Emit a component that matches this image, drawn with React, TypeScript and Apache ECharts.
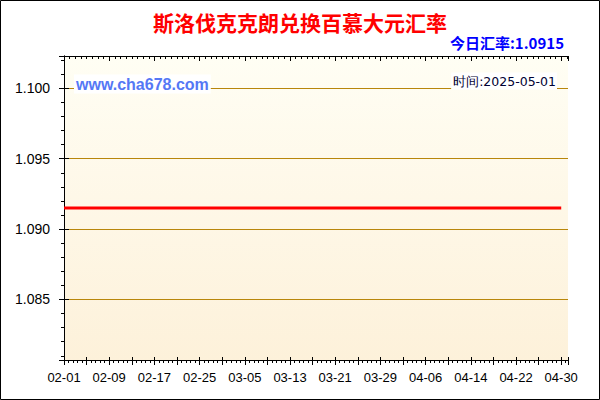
import { useEffect, useRef } from 'react';
import * as echarts from 'echarts';

const title = '斯洛伐克克朗兑换百慕大元汇率';
const todayRate = '今日汇率:1.0915';
const siteText = 'www.cha678.com';
const timeText = '时间:2025-05-01';

// one point per day, 02-01 .. 04-30
const dates = [
    '02-01', '02-02', '02-03', '02-04', '02-05', '02-06', '02-07', '02-08', '02-09', '02-10',
    '02-11', '02-12', '02-13', '02-14', '02-15', '02-16', '02-17', '02-18', '02-19', '02-20',
    '02-21', '02-22', '02-23', '02-24', '02-25', '02-26', '02-27', '02-28',
    '03-01', '03-02', '03-03', '03-04', '03-05', '03-06', '03-07', '03-08', '03-09', '03-10',
    '03-11', '03-12', '03-13', '03-14', '03-15', '03-16', '03-17', '03-18', '03-19', '03-20',
    '03-21', '03-22', '03-23', '03-24', '03-25', '03-26', '03-27', '03-28', '03-29', '03-30', '03-31',
    '04-01', '04-02', '04-03', '04-04', '04-05', '04-06', '04-07', '04-08', '04-09', '04-10',
    '04-11', '04-12', '04-13', '04-14', '04-15', '04-16', '04-17', '04-18', '04-19', '04-20',
    '04-21', '04-22', '04-23', '04-24', '04-25', '04-26', '04-27', '04-28', '04-29', '04-30',
];

const rates = [
    1.0915, 1.0915, 1.0915, 1.0915, 1.0915, 1.0915, 1.0915, 1.0915, 1.0915, 1.0915,
    1.0915, 1.0915, 1.0915, 1.0915, 1.0915, 1.0915, 1.0915, 1.0915, 1.0915, 1.0915,
    1.0915, 1.0915, 1.0915, 1.0915, 1.0915, 1.0915, 1.0915, 1.0915,
    1.0915, 1.0915, 1.0915, 1.0915, 1.0915, 1.0915, 1.0915, 1.0915, 1.0915, 1.0915,
    1.0915, 1.0915, 1.0915, 1.0915, 1.0915, 1.0915, 1.0915, 1.0915, 1.0915, 1.0915,
    1.0915, 1.0915, 1.0915, 1.0915, 1.0915, 1.0915, 1.0915, 1.0915, 1.0915, 1.0915, 1.0915,
    1.0915, 1.0915, 1.0915, 1.0915, 1.0915, 1.0915, 1.0915, 1.0915, 1.0915, 1.0915,
    1.0915, 1.0915, 1.0915, 1.0915, 1.0915, 1.0915, 1.0915, 1.0915, 1.0915, 1.0915,
    1.0915, 1.0915, 1.0915, 1.0915, 1.0915, 1.0915, 1.0915, 1.0915, 1.0915, 1.0915,
];

const yMin = 1.0807;
const yMax = 1.1023;
const xMax = 89.2;

const App = () => {
    const chartRef = useRef<HTMLDivElement>(null);

    useEffect(() => {
        if (!chartRef.current) return;
        const myChart = echarts.init(chartRef.current, null, { renderer: 'svg' });

        const axisFont = { fontFamily: 'Liberation Sans', fontSize: 13, color: '#000' };
        const black = { lineStyle: { color: '#000', width: 1 } };

        const option = {
            animation: false,
            backgroundColor: '#fff',
            grid: {
                left: 64,
                right: 32,
                top: 56,
                bottom: 40,
                show: true,
                borderWidth: 0,
                backgroundColor: new echarts.graphic.LinearGradient(0, 0, 0, 1, [
                    { offset: 0, color: '#FFFEF4' },
                    { offset: 1, color: '#FDF1DA' },
                ]),
            },
            xAxis: [
                {
                    type: 'value',
                    position: 'bottom',
                    min: 0,
                    max: xMax,
                    interval: 4,
                    axisLine: { show: true, ...black },
                    axisTick: { show: true, length: 5, ...black },
                    minorTick: { show: true, splitNumber: 5, length: 3, ...black },
                    axisLabel: {
                        ...axisFont,
                        margin: 11,
                        showMaxLabel: false,
                        formatter: (v: number) => (v % 8 === 0 && dates[v] ? dates[v] : ''),
                    },
                    splitLine: { show: false },
                },
                {
                    type: 'value',
                    position: 'bottom',
                    min: 0,
                    max: xMax,
                    interval: 4,
                    axisLine: { show: false },
                    axisTick: { show: true, inside: true, length: 3, ...black },
                    axisLabel: { show: false },
                    splitLine: { show: false },
                },
                {
                    type: 'value',
                    position: 'top',
                    min: 0,
                    max: xMax,
                    interval: 8,
                    axisLine: { show: true, ...black },
                    axisTick: { show: true, inside: true, length: 5, ...black },
                    minorTick: { show: true, splitNumber: 8, length: 3, ...black },
                    axisLabel: { show: false },
                    splitLine: { show: false },
                },
            ],
            yAxis: [
                {
                    type: 'value',
                    position: 'left',
                    min: yMin,
                    max: yMax,
                    splitNumber: 5,
                    axisLine: { show: true, ...black },
                    axisTick: { show: true, length: 5, ...black },
                    minorTick: { show: true, splitNumber: 5, length: 3, ...black },
                    axisLabel: {
                        ...axisFont,
                        fontSize: 14,
                        margin: 14,
                        showMinLabel: false,
                        showMaxLabel: false,
                        formatter: (v: number) => v.toFixed(3),
                    },
                    splitLine: {
                        show: true,
                        showMinLine: false,
                        showMaxLine: false,
                        lineStyle: { color: '#B8860B', width: 1 },
                    },
                },
                {
                    type: 'value',
                    position: 'right',
                    min: yMin,
                    max: yMax,
                    splitNumber: 5,
                    axisLine: { show: true, ...black },
                    axisTick: { show: true, inside: true, length: 3, ...black },
                    minorTick: { show: true, splitNumber: 5, length: 3, ...black },
                    axisLabel: { show: false },
                    splitLine: { show: false },
                },
                {
                    type: 'value',
                    position: 'left',
                    min: yMin,
                    max: yMax,
                    splitNumber: 5,
                    axisLine: { show: false },
                    axisTick: { show: true, inside: true, length: 5, ...black },
                    axisLabel: { show: false },
                    splitLine: { show: false },
                },
            ],
            graphic: [
                {
                    type: 'rect',
                    shape: { x: 0.5, y: 0.5, width: 599, height: 399 },
                    style: { fill: 'none', stroke: '#000', lineWidth: 1 },
                    silent: true,
                },
                {
                    type: 'text',
                    x: 300,
                    y: 22,
                    style: {
                        text: title,
                        fill: '#FF0000',
                        font: 'bold 21px "Noto Sans CJK SC"',
                        textAlign: 'center',
                        textVerticalAlign: 'middle',
                    },
                },
                {
                    type: 'text',
                    x: 564,
                    y: 42,
                    style: {
                        text: todayRate,
                        fill: '#0000FF',
                        font: 'bold 15px "Noto Sans CJK SC"',
                        textAlign: 'right',
                        textVerticalAlign: 'middle',
                    },
                },
                {
                    type: 'text',
                    x: 74,
                    y: 84,
                    z: 10,
                    style: {
                        text: siteText,
                        fill: '#5578F5',
                        font: 'bold 16px "Liberation Sans"',
                        textAlign: 'left',
                        textVerticalAlign: 'middle',
                        backgroundColor: '#fff',
                        padding: [2, 2, 1, 2],
                    },
                },
                {
                    type: 'text',
                    x: 557,
                    y: 81,
                    z: 10,
                    style: {
                        text: timeText,
                        fill: '#000033',
                        font: '12.5px "DejaVu Sans"',
                        textAlign: 'right',
                        textVerticalAlign: 'middle',
                        backgroundColor: '#fff',
                        padding: [2, 1, 2, 2],
                    },
                },
            ],
            series: [
                {
                    type: 'line',
                    xAxisIndex: 0,
                    yAxisIndex: 0,
                    data: rates.map((v, i) => [i, v]),
                    showSymbol: false,
                    lineStyle: { color: '#FF0000', width: 3 },
                    z: 5,
                },
            ],
        };

        myChart.setOption(option);

        return () => {
            myChart.dispose();
        };
    }, []);

    return (
        <div
            ref={chartRef}
            style={{ position: 'fixed', left: 0, top: 0, width: '600px', height: '400px' }}
        />
    );
};

export default App;
